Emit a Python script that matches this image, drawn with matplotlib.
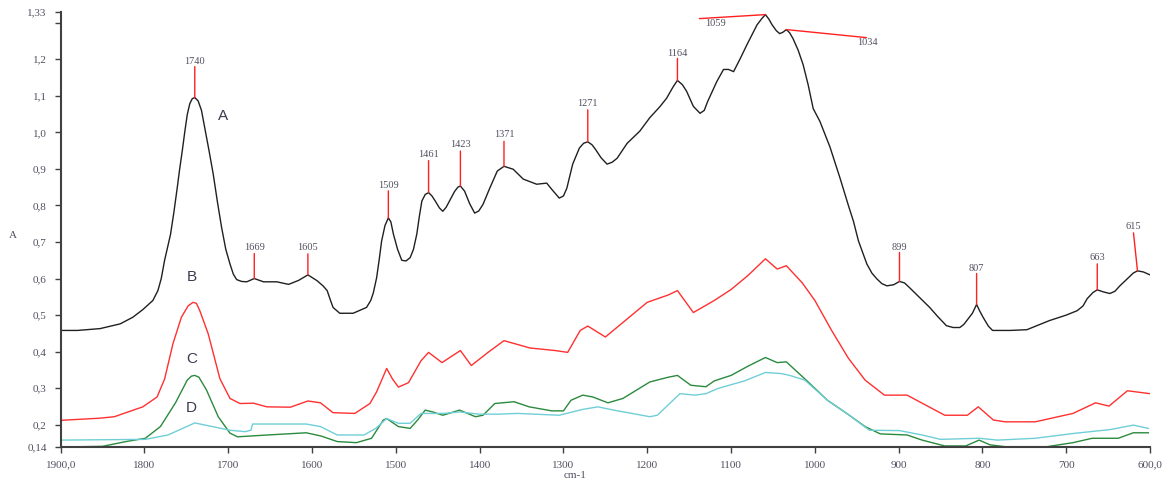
import numpy as np
import matplotlib
matplotlib.use("Agg")
import matplotlib.pyplot as plt

# wavenumber (cm-1) / absorbance pairs for each spectrum
wn_a = [1900, 1880, 1853, 1829, 1814, 1802, 1790, 1784, 1780, 1776, 1772, 1769,
        1765, 1761, 1758, 1755, 1752, 1749, 1746, 1743, 1740, 1736, 1732, 1728,
        1723, 1718, 1713, 1708, 1703, 1698, 1694, 1690, 1684, 1678, 1669, 1658,
        1642, 1628, 1616, 1605, 1594, 1587, 1582, 1578, 1575, 1567, 1551, 1535,
        1530, 1527, 1523, 1520, 1517, 1513, 1509, 1506, 1503, 1498, 1493, 1488,
        1483, 1479, 1475, 1472, 1469, 1465, 1461, 1457, 1453, 1448, 1444, 1440,
        1436, 1430, 1426, 1423, 1418, 1412, 1406, 1401, 1396, 1388, 1379, 1371,
        1360, 1348, 1332, 1320, 1314, 1305, 1300, 1296, 1289, 1281, 1276, 1271,
        1266, 1262, 1255, 1248, 1242, 1236, 1224, 1209, 1197, 1185, 1177, 1169,
        1164, 1158, 1153, 1145, 1137, 1132, 1128, 1117, 1109, 1103, 1097, 1089,
        1081, 1069, 1063, 1059, 1055, 1051, 1046, 1042, 1038, 1034, 1030, 1026,
        1020, 1014, 1008, 1002, 994, 982, 970, 960, 954, 948, 938, 932, 926,
        920, 914, 906, 899, 893, 887, 875, 863, 853, 843, 835, 827, 822, 817,
        812, 807, 803, 799, 793, 788, 767, 747, 720, 700, 687, 680, 675, 668,
        663, 655, 648, 642, 636, 626, 620, 615, 608, 600]
abs_a = [0.458, 0.458, 0.463, 0.476, 0.494, 0.515, 0.540, 0.567, 0.600, 0.650,
         0.690, 0.720, 0.780, 0.847, 0.900, 0.948, 1.000, 1.048, 1.078, 1.092,
         1.095, 1.086, 1.060, 1.011, 0.950, 0.886, 0.810, 0.740, 0.680, 0.640,
         0.612, 0.597, 0.592, 0.591, 0.600, 0.591, 0.591, 0.584, 0.595, 0.610,
         0.594, 0.580, 0.567, 0.540, 0.521, 0.505, 0.505, 0.521, 0.540, 0.560,
         0.602, 0.650, 0.703, 0.745, 0.766, 0.755, 0.722, 0.680, 0.650, 0.648,
         0.657, 0.680, 0.722, 0.770, 0.812, 0.830, 0.835, 0.826, 0.812, 0.793,
         0.784, 0.795, 0.812, 0.838, 0.850, 0.853, 0.839, 0.805, 0.779, 0.785,
         0.803, 0.847, 0.894, 0.907, 0.899, 0.872, 0.858, 0.861, 0.844, 0.820,
         0.826, 0.847, 0.913, 0.957, 0.970, 0.974, 0.966, 0.954, 0.930, 0.913,
         0.918, 0.929, 0.970, 1.003, 1.040, 1.070, 1.093, 1.125, 1.142, 1.130,
         1.112, 1.071, 1.052, 1.060, 1.084, 1.139, 1.172, 1.172, 1.166, 1.202,
         1.240, 1.294, 1.312, 1.322, 1.310, 1.294, 1.278, 1.270, 1.274, 1.281,
         1.272, 1.256, 1.225, 1.185, 1.130, 1.065, 1.030, 0.960, 0.875, 0.800,
         0.757, 0.703, 0.640, 0.615, 0.599, 0.586, 0.580, 0.583, 0.592, 0.588,
         0.575, 0.548, 0.521, 0.495, 0.471, 0.466, 0.466, 0.475, 0.490, 0.505,
         0.529, 0.510, 0.493, 0.470, 0.458, 0.458, 0.460, 0.485, 0.500, 0.512,
         0.525, 0.545, 0.562, 0.569, 0.563, 0.559, 0.565, 0.580, 0.602, 0.615,
         0.621, 0.618, 0.610]

wn_b = [1900, 1853, 1836, 1802, 1785, 1776, 1766, 1756, 1748, 1742, 1738, 1734,
        1724, 1710, 1698, 1686, 1670, 1654, 1626, 1605, 1590, 1575, 1549, 1531,
        1523, 1511, 1504, 1497, 1485, 1470, 1461, 1445, 1423, 1410, 1390, 1371,
        1340, 1310, 1295, 1280, 1271, 1250, 1200, 1175, 1164, 1145, 1120, 1100,
        1080, 1059, 1045, 1034, 1015, 1000, 980, 960, 940, 917, 890, 845, 818,
        805, 787, 773, 737, 692, 665, 649, 627, 600]
abs_b = [0.212, 0.218, 0.222, 0.249, 0.276, 0.325, 0.422, 0.494, 0.525, 0.535,
         0.532, 0.512, 0.449, 0.326, 0.272, 0.258, 0.259, 0.249, 0.248, 0.265,
         0.260, 0.233, 0.231, 0.258, 0.290, 0.354, 0.325, 0.303, 0.315, 0.375,
         0.398, 0.370, 0.403, 0.362, 0.398, 0.430, 0.410, 0.403, 0.398, 0.458,
         0.470, 0.440, 0.535, 0.555, 0.567, 0.507, 0.540, 0.570, 0.608, 0.654,
         0.626, 0.635, 0.588, 0.540, 0.458, 0.382, 0.322, 0.281, 0.281, 0.226,
         0.226, 0.249, 0.213, 0.208, 0.208, 0.231, 0.260, 0.251, 0.293, 0.285]

wn_c = [1900, 1850, 1822, 1799, 1781, 1763, 1749, 1744, 1740, 1735, 1726, 1712,
        1698, 1689, 1653, 1607, 1589, 1570, 1547, 1529, 1515, 1511, 1497, 1483,
        1474, 1465, 1456, 1444, 1424, 1405, 1396, 1382, 1359, 1341, 1314, 1300,
        1291, 1277, 1265, 1247, 1229, 1197, 1175, 1164, 1148, 1130, 1120, 1100,
        1080, 1059, 1045, 1034, 1008, 985, 962, 940, 922, 890, 872, 845, 820,
        804, 791, 773, 723, 692, 669, 638, 620, 602]
abs_c = [0.139, 0.141, 0.154, 0.163, 0.195, 0.260, 0.322, 0.333, 0.335, 0.330,
         0.295, 0.222, 0.177, 0.167, 0.172, 0.178, 0.169, 0.154, 0.151, 0.163,
         0.213, 0.217, 0.195, 0.190, 0.213, 0.240, 0.235, 0.226, 0.240, 0.222,
         0.226, 0.258, 0.263, 0.249, 0.238, 0.238, 0.267, 0.281, 0.276, 0.260,
         0.272, 0.317, 0.330, 0.335, 0.308, 0.304, 0.320, 0.335, 0.360, 0.384,
         0.370, 0.372, 0.317, 0.267, 0.231, 0.195, 0.175, 0.172, 0.158, 0.142,
         0.142, 0.158, 0.145, 0.140, 0.140, 0.151, 0.163, 0.163, 0.178, 0.178]

wn_d = [1900, 1799, 1772, 1740, 1717, 1698, 1680, 1673, 1671, 1607, 1590, 1570,
        1538, 1524, 1511, 1497, 1483, 1470, 1443, 1424, 1401, 1378, 1355, 1305,
        1277, 1259, 1240, 1197, 1188, 1161, 1143, 1130, 1116, 1084, 1059, 1040,
        1030, 1012, 985, 962, 935, 899, 872, 850, 804, 782, 737, 692, 647, 620,
        602]
abs_d = [0.158, 0.160, 0.172, 0.205, 0.194, 0.185, 0.181, 0.185, 0.202, 0.202,
         0.195, 0.172, 0.172, 0.190, 0.217, 0.204, 0.204, 0.231, 0.231, 0.235,
         0.229, 0.229, 0.231, 0.226, 0.242, 0.249, 0.240, 0.222, 0.226, 0.285,
         0.281, 0.285, 0.299, 0.320, 0.343, 0.340, 0.335, 0.322, 0.267, 0.231,
         0.185, 0.184, 0.172, 0.160, 0.163, 0.158, 0.163, 0.176, 0.187, 0.199,
         0.190]

# band positions marked on spectrum A
peaks = [1740, 1669, 1605, 1509, 1461, 1423, 1371, 1271, 1164, 1059, 1034,
         899, 807, 663, 615]

x_ticks = [1900, 1800, 1700, 1600, 1500, 1400, 1300, 1200, 1100, 1000, 900,
           800, 700, 600]
x_ticklabels = ["1900,0", "1800", "1700", "1600", "1500", "1400", "1300",
                "1200", "1100", "1000", "900", "800", "700", "600,0"]
y_ticks = [1.33, 1.3, 1.2, 1.1, 1.0, 0.9, 0.8, 0.7, 0.6, 0.5, 0.4, 0.3, 0.2,
           0.14]
y_ticklabels = ["1,33", "", "1,2", "1,1", "1,0", "0,9", "0,8", "0,7", "0,6",
                "0,5", "0,4", "0,3", "0,2", "0,14"]

# marker line end / label offsets in pixels (line dx, dy, label dx, dy)
marker_offsets = {
    1740: (0, 31, 0, 36), 1669: (0, 25, 0, 31), 1605: (0, 21, 0, 27),
    1509: (0, 27, 0, 32), 1461: (0, 32, 0, 38), 1423: (0, 35, 0, 42),
    1371: (0, 25, 0, 32), 1271: (0, 32, 0, 38), 1164: (0, 22, 0, 27),
    1059: (-66, -4, -50, -9), 1034: (80, -8, 81, -13),
    899: (0, 29, 0, 34), 807: (0, 31, 0, 36), 663: (0, 26, 0, 32),
    615: (-4, 38, -4, 44),
}

serif = "Liberation Serif"
tick_col = "#505060"

fig = plt.figure(figsize=(11.74, 4.83), dpi=100)
ax = fig.add_axes([0.0517, 0.0752, 0.9279, 0.9006])

ax.plot(wn_c, abs_c, color="#2a8a3e", lw=1.0)
ax.plot(wn_d, abs_d, color="#6fcfd6", lw=1.0)
ax.plot(wn_b, abs_b, color="#ff3030", lw=1.0)
ax.plot(wn_a, abs_a, color="#202020", lw=1.0)

# red markers on A, anchored at the band position
wn_a_rev = np.array(wn_a[::-1])
abs_a_rev = np.array(abs_a[::-1])
for p in peaks:
    yp = np.interp(p, wn_a_rev, abs_a_rev)
    ldx, ldy, tdx, tdy = marker_offsets[p]
    ax.annotate("", xy=(p, yp), xytext=(ldx, ldy), textcoords="offset pixels",
                arrowprops=dict(arrowstyle="-", color="#ff2020", lw=1.0,
                                shrinkA=0, shrinkB=0))
    ax.annotate(str(p), xy=(p, yp), xytext=(tdx, tdy),
                textcoords="offset pixels", ha="center", va="center",
                fontsize=7.5, family=serif, color=tick_col)

# curve letters
for letter, xy in zip(["A", "B", "C", "D"],
                      [(1706, 1.044), (1744, 0.605), (1744, 0.381), (1744, 0.247)]):
    ax.text(xy[0], xy[1], letter, ha="center", va="center", fontsize=11,
            family="Liberation Sans", color="#3a3a50")

ax.set_xlim(1900, 600)
ax.set_ylim(0.14, 1.33)
ax.set_xticks(x_ticks)
ax.set_xticklabels(x_ticklabels)
ax.set_yticks(y_ticks)
ax.set_yticklabels(y_ticklabels)
ax.tick_params(axis="both", labelsize=8, colors="#404040", labelcolor=tick_col,
               length=4, width=1)
ax.tick_params(axis="x", pad=6)
ax.tick_params(axis="y", pad=6)
for lab in ax.get_xticklabels() + ax.get_yticklabels():
    lab.set_family(serif)

for side in ["top", "right"]:
    ax.spines[side].set_visible(False)
for side in ["left", "bottom"]:
    ax.spines[side].set_color("#404040")
    ax.spines[side].set_linewidth(1.5)

fig.text(13 / 1174, 1 - 235 / 483, "A", family=serif, fontsize=8,
         color=tick_col, ha="center", va="center")
fig.text(575 / 1174, 1 - 476 / 483, "cm-1", family=serif, fontsize=8,
         color=tick_col, ha="center", va="center")

fig.savefig("out.png", dpi=100)
